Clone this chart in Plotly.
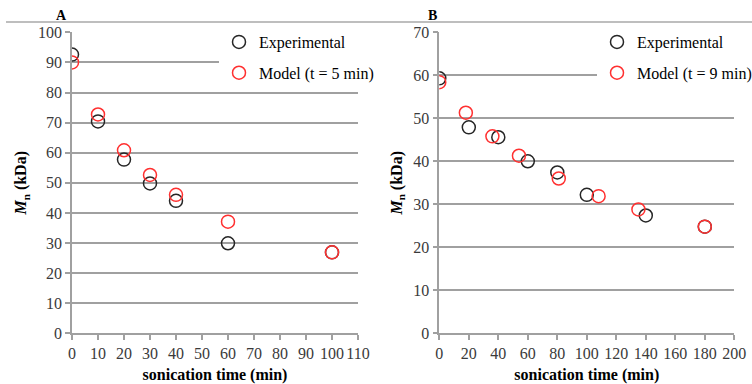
import plotly.graph_objects as go

W, H = 752, 384

# Panel A data
a_exp_t = [0, 10, 20, 30, 40, 60, 100]
a_exp_mn = [92.6, 70.4, 57.7, 49.8, 44.0, 29.9, 26.9]
a_mod_t = [0, 10, 20, 30, 40, 60, 100]
a_mod_mn = [90.0, 72.7, 60.8, 52.6, 46.0, 37.1, 26.9]

# Panel B data
b_exp_t = [0, 20, 40, 60, 80, 100, 140, 180]
b_exp_mn = [59.3, 47.9, 45.6, 40.0, 37.4, 32.2, 27.4, 24.8]
b_mod_t = [0, 18, 36, 54, 81, 108, 135, 180]
b_mod_mn = [58.4, 51.3, 45.8, 41.3, 36.0, 31.9, 28.8, 24.8]

a_x_ticks = list(range(0, 111, 10))
a_y_ticks = list(range(0, 101, 10))
b_x_ticks = list(range(0, 201, 20))
b_y_ticks = list(range(0, 71, 10))

FONT = "Liberation Serif"
BLACK = "#262626"
RED = "#ff3030"
GRID = "#a0a0a0"
TICKC = "#3a3a3a"

def px_x(p):
    return p / W

def px_y(p):
    return 1 - p / H

fig = go.Figure()

def marker(color):
    return dict(symbol="circle-open", size=13, color=color, line=dict(width=1.5, color=color))

fig.add_trace(go.Scatter(x=a_exp_t, y=a_exp_mn, mode="markers", name="Experimental",
                         marker=marker(BLACK), xaxis="x", yaxis="y", legend="legend", legendgroup="a1"))
fig.add_trace(go.Scatter(x=a_mod_t, y=a_mod_mn, mode="markers", name="Model (t = 5 min)",
                         marker=marker(RED), xaxis="x", yaxis="y", legend="legend", legendgroup="a2"))
fig.add_trace(go.Scatter(x=b_exp_t, y=b_exp_mn, mode="markers", name="Experimental",
                         marker=marker(BLACK), xaxis="x2", yaxis="y2", legend="legend2", legendgroup="b1"))
fig.add_trace(go.Scatter(x=b_mod_t, y=b_mod_mn, mode="markers", name="Model (t = 9 min)",
                         marker=marker(RED), xaxis="x2", yaxis="y2", legend="legend2", legendgroup="b2"))

ydom = [px_y(333.3), px_y(32.3)]
xa_dom = [px_x(72.0), px_x(358.0)]
xb_dom = [px_x(439.3), px_x(734.3)]

tickfont = dict(family=FONT, size=16, color=TICKC)
titlefont = dict(family=FONT, size=16, color="#000000")

def xaxis(dom, anchor, rng, ticks):
    return dict(domain=dom, anchor=anchor, range=rng, tickvals=ticks, ticktext=[str(t) for t in ticks],
                showgrid=False, zeroline=False, showline=True, linecolor=GRID, linewidth=1.5,
                ticks="outside", ticklen=5, tickcolor=GRID, tickwidth=1.5,
                tickfont=tickfont, fixedrange=True, automargin=False,
                title=dict(text="<b>sonication time (min)</b>", font=titlefont, standoff=8))

def yaxis(anchor, rng, ticks):
    return dict(domain=ydom, anchor=anchor, range=rng, tickvals=ticks, ticktext=[str(t) for t in ticks],
                showgrid=True, gridcolor=GRID, gridwidth=1.5, zeroline=False,
                showline=True, linecolor=GRID, linewidth=1.5,
                ticks="outside", ticklen=5, tickcolor=GRID, tickwidth=1.5,
                tickfont=tickfont, fixedrange=True, automargin=False,
                title=dict(text="<b><i>M</i><sub>n</sub> (kDa)</b>", font=titlefont, standoff=7))

legfont = dict(family=FONT, size=16, color="#000000")

fig.update_layout(
    width=W, height=H,
    font=dict(family=FONT),
    margin=dict(l=0, r=0, t=0, b=0, autoexpand=False),
    paper_bgcolor="white", plot_bgcolor="white",
    showlegend=True,
    xaxis=xaxis(xa_dom, "y", [0, 110], a_x_ticks),
    yaxis=yaxis("x", [0, 100], a_y_ticks),
    xaxis2=xaxis(xb_dom, "y2", [0, 200], b_x_ticks),
    yaxis2=yaxis("x2", [0, 70], b_y_ticks),
    legend=dict(x=px_x(219), y=px_y(25), xanchor="left", yanchor="top", bgcolor="white",
                font=legfont, tracegroupgap=7, itemwidth=30, traceorder="grouped"),
    legend2=dict(x=px_x(597), y=px_y(25), xanchor="left", yanchor="top", bgcolor="white",
                 font=legfont, tracegroupgap=7, itemwidth=30, traceorder="grouped"),
    annotations=[
        dict(text="<b>A</b>", x=px_x(62), y=px_y(15), xref="paper", yref="paper",
             xanchor="center", yanchor="middle",
             showarrow=False, font=dict(family=FONT, size=14, color="#000000")),
        dict(text="<b>B</b>", x=px_x(432), y=px_y(15), xref="paper", yref="paper",
             xanchor="center", yanchor="middle",
             showarrow=False, font=dict(family=FONT, size=14, color="#000000")),
    ],
    shapes=[
        dict(type="line", xref="paper", yref="paper", x0=px_x(6), x1=px_x(752), y0=px_y(22), y1=px_y(22),
             line=dict(color="#a8a8a8", width=1.5), layer="above"),
    ],
)

fig.write_html("out.html")
